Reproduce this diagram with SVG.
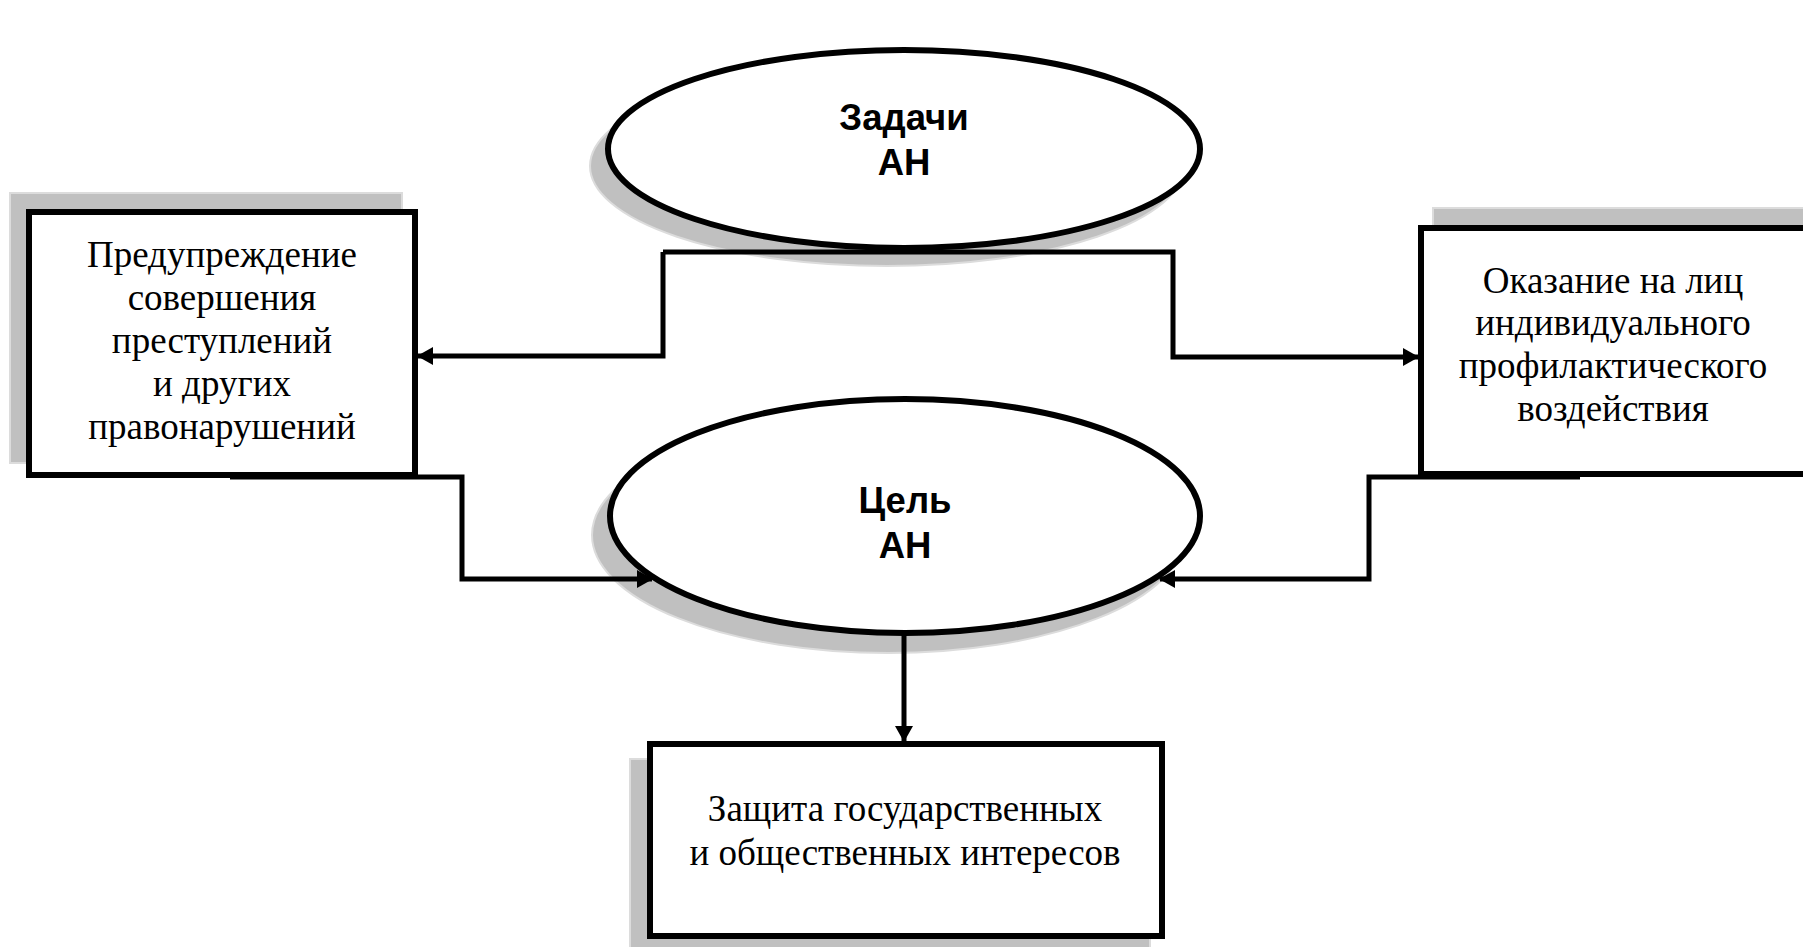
<svg xmlns="http://www.w3.org/2000/svg" width="1803" height="947" viewBox="0 0 1803 947">
<style>
.shadow{fill:#c0c0c0;stroke:#dcdcdc;stroke-width:2}
.box{fill:#fff;stroke:#000;stroke-width:6}
.oval{fill:#fff;stroke:#000;stroke-width:6}
.t{font-family:"Liberation Serif","Times New Roman",serif;font-size:37px;fill:#000;text-anchor:middle}
.b{font-family:"Liberation Sans",Arial,sans-serif;font-size:36.5px;font-weight:bold;fill:#000;text-anchor:middle}
.conn{fill:none;stroke:#000;stroke-width:5;stroke-linejoin:miter}
</style>
<defs>
<marker id="arr" viewBox="0 0 16 18" refX="15" refY="9" markerWidth="16" markerHeight="18" markerUnits="userSpaceOnUse" orient="auto">
<path d="M0,0 L16,9 L0,18 Z" fill="#000"/>
</marker>
</defs>
<rect width="1803" height="947" fill="#fff"/>

<g id="shadows">
<ellipse class="shadow" cx="887" cy="166" rx="297" ry="100"/>
<ellipse class="shadow" cx="888" cy="535" rx="296" ry="118"/>
<rect class="shadow" x="10" y="193" width="392" height="270"/>
<rect class="shadow" x="1433" y="208" width="400" height="250"/>
<rect class="shadow" x="630" y="759" width="520" height="200"/>
</g>

<g id="connectors">
<polyline class="conn" points="663,252 663,356 418,356" marker-end="url(#arr)"/>
<polyline class="conn" points="663,252 1173,252 1173,357 1418,357" marker-end="url(#arr)"/>
<polyline class="conn" points="230,477 462,477 462,579 652,579" marker-end="url(#arr)"/>
<polyline class="conn" points="1580,477 1369,477 1369,579 1160,579" marker-end="url(#arr)"/>
<line class="conn" x1="904" y1="633" x2="904" y2="741" marker-end="url(#arr)"/>
</g>

<g id="node-zadachi">
<ellipse class="oval" cx="904" cy="149" rx="296" ry="99"/>
<text class="b" x="904" y="130">Задачи</text>
<text class="b" x="904" y="175">АН</text>
</g>

<g id="node-cel">
<ellipse class="oval" cx="905" cy="516" rx="295" ry="117"/>
<text class="b" x="905" y="513">Цель</text>
<text class="b" x="905" y="558">АН</text>
</g>

<g id="node-preduprezhdenie">
<rect class="box" x="29" y="212" width="386" height="263"/>
<text class="t" x="222" y="267">Предупреждение</text>
<text class="t" x="222" y="310">совершения</text>
<text class="t" x="222" y="353">преступлений</text>
<text class="t" x="222" y="396">и других</text>
<text class="t" x="222" y="439">правонарушений</text>
</g>

<g id="node-okazanie">
<rect class="box" x="1421" y="228" width="400" height="246"/>
<text class="t" x="1613" y="293">Оказание на лиц</text>
<text class="t" x="1613" y="335">индивидуального</text>
<text class="t" x="1613" y="378">профилактического</text>
<text class="t" x="1613" y="421">воздействия</text>
</g>

<g id="node-zashchita">
<rect class="box" x="650" y="744" width="512" height="192"/>
<text class="t" x="905" y="821">Защита государственных</text>
<text class="t" x="905" y="865">и общественных интересов</text>
</g>
</svg>
